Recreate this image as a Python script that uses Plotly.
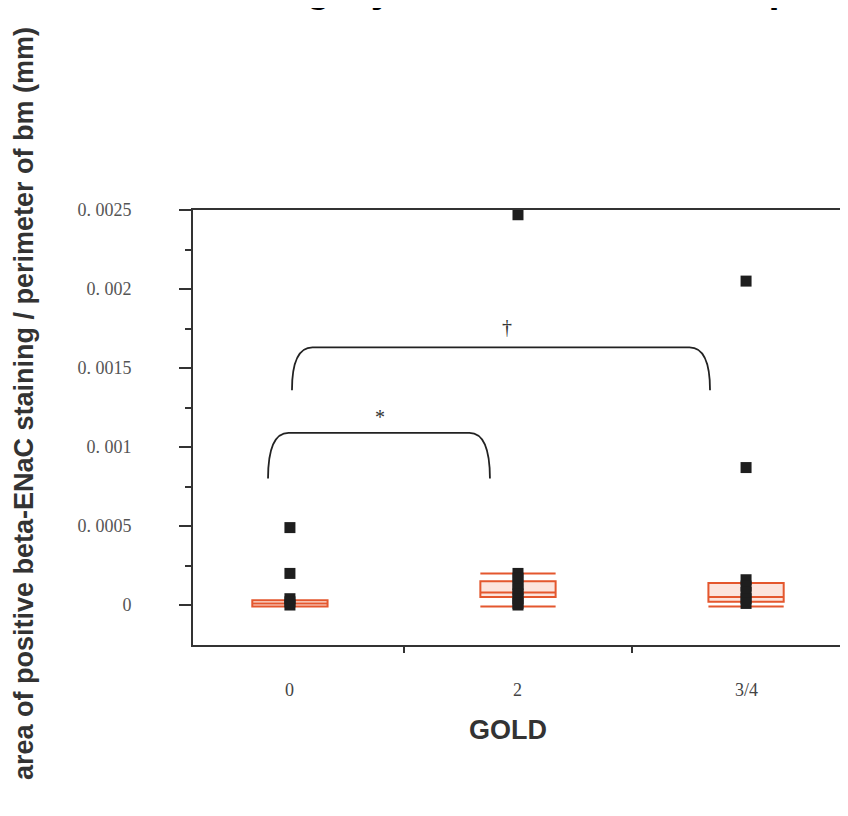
import plotly.graph_objects as go

# ---- data ----
categories = ["0", "2", "3/4"]
cat_pos = [0, 1, 2]

# individual measurements (black squares)
pts_x = [0, 0, 0, 0, 0,
         1, 1, 1, 1, 1, 1, 1, 1, 1,
         2, 2, 2, 2, 2, 2, 2]
pts_y = [0.00049, 0.00020, 0.00004, 0.00002, 0.0,
         0.00247, 0.00020, 0.00017, 0.00013, 0.00010, 0.00007, 0.00004, 0.00001, 0.0,
         0.00205, 0.00087, 0.00016, 0.00012, 0.00008, 0.00004, 0.00001]

# box statistics (red boxes)
box_lower = [-0.00001, -0.00001, -0.00001]
box_q1 = [-0.00001, 0.00005, 0.00002]
box_median = [0.00001, 0.00008, 0.00005]
box_q3 = [0.00003, 0.00015, 0.00014]
box_upper = [0.00003, 0.00020, 0.00014]

y_tickvals = [0, 0.0005, 0.001, 0.0015, 0.002, 0.0025]
y_ticktext = ["0", "0. 0005", "0. 001", "0. 0015", "0. 002", "0. 0025"]
y_minor = [0.00025, 0.00075, 0.00125, 0.00175, 0.00225]

# significance brackets: (x_left, x_right, y_bottom, y_top, label, label_x, label_y)
brackets = [
    (-0.096, 0.877, 0.00080, 0.00109, "*", 0.395, 0.00119),
    (0.009, 1.842, 0.00136, 0.00163, "†", 0.952, 0.00176),
]

fig = go.Figure()

fig.add_trace(go.Box(
    x=cat_pos, q1=box_q1, median=box_median, q3=box_q3,
    lowerfence=box_lower, upperfence=box_upper,
    boxpoints=False, whiskerwidth=1, width=0.33,
    line=dict(color="#e4572e", width=2),
    fillcolor="rgba(240,130,100,0.22)",
    showlegend=False, hoverinfo="skip",
))

fig.add_trace(go.Scatter(
    x=pts_x, y=pts_y, mode="markers",
    marker=dict(symbol="square", size=11, color="#1e1e1e"),
    showlegend=False, hoverinfo="skip",
))

shapes = []
annotations = []
for (x0, x1, yb, yt, lab, lx, ly) in brackets:
    rx = 0.09
    path = (f"M {x0:.5f},{yb:.7f} Q {x0:.5f},{yt:.7f} {x0 + rx:.5f},{yt:.7f} "
            f"L {x1 - rx:.5f},{yt:.7f} Q {x1:.5f},{yt:.7f} {x1:.5f},{yb:.7f}")
    shapes.append(dict(type="path", path=path, xref="x", yref="y",
                       line=dict(color="#222", width=1.8)))
    annotations.append(dict(x=lx, y=ly, xref="x", yref="y", text=lab,
                            showarrow=False,
                            font=dict(family="Liberation Serif", size=20, color="#333")))

for pos, lab in zip(cat_pos, categories):
    annotations.append(dict(x=pos, y=-0.1034, xref="x", yref="paper", text=lab,
                            showarrow=False, yanchor="middle",
                            font=dict(family="Liberation Serif", size=18, color="#444")))

annotations.append(dict(x=0.481, y=-0.195, xref="paper", yref="paper", text="<b>GOLD</b>",
                        showarrow=False, yanchor="middle",
                        font=dict(family="Liberation Sans", size=27, color="#333")))

annotations.append(dict(x=-0.284, y=0.556, xref="paper", yref="paper",
                        text="<b>area of positive beta-ENaC staining / perimeter of bm (mm)</b>",
                        textangle=-90, showarrow=False,
                        font=dict(family="Liberation Sans", size=27, color="#333")))

# cropped title at the very top (only descenders visible)
annotations.append(dict(x=-0.580, y=1.455, xref="paper", yref="paper",
                        xanchor="left", yanchor="bottom",
                        text="<b>Beta-ENaC vs. GOLD category in all COPD cohort patients</b>",
                        showarrow=False,
                        font=dict(family="Liberation Sans", size=40, color="#000")))

fig.update_layout(
    width=848, height=816,
    margin=dict(l=185, r=8, t=202, b=179),
    paper_bgcolor="white", plot_bgcolor="white",
    shapes=shapes, annotations=annotations,
    xaxis=dict(range=[-0.425, 2.447], showgrid=False, zeroline=False,
               showline=True, linecolor="#333", linewidth=2, mirror=True,
               tickmode="array", tickvals=[0.5, 1.5], ticktext=["", ""],
               ticks="outside", ticklen=6, tickwidth=1.5, tickcolor="#333"),
    yaxis=dict(range=[-0.000253, 0.0025], showgrid=False, zeroline=False,
               showline=True, linecolor="#333", linewidth=2,
               tickmode="array", tickvals=y_tickvals, ticktext=y_ticktext,
               ticks="outside", ticklen=12, tickwidth=1.5, tickcolor="#333",
               ticklabelstandoff=44,
               minor=dict(tickmode="array", tickvals=y_minor, ticks="outside",
                          ticklen=6, tickwidth=1.5, tickcolor="#333"),
               tickfont=dict(family="Liberation Serif", size=18, color="#555")),
)

fig.write_html("out.html")
